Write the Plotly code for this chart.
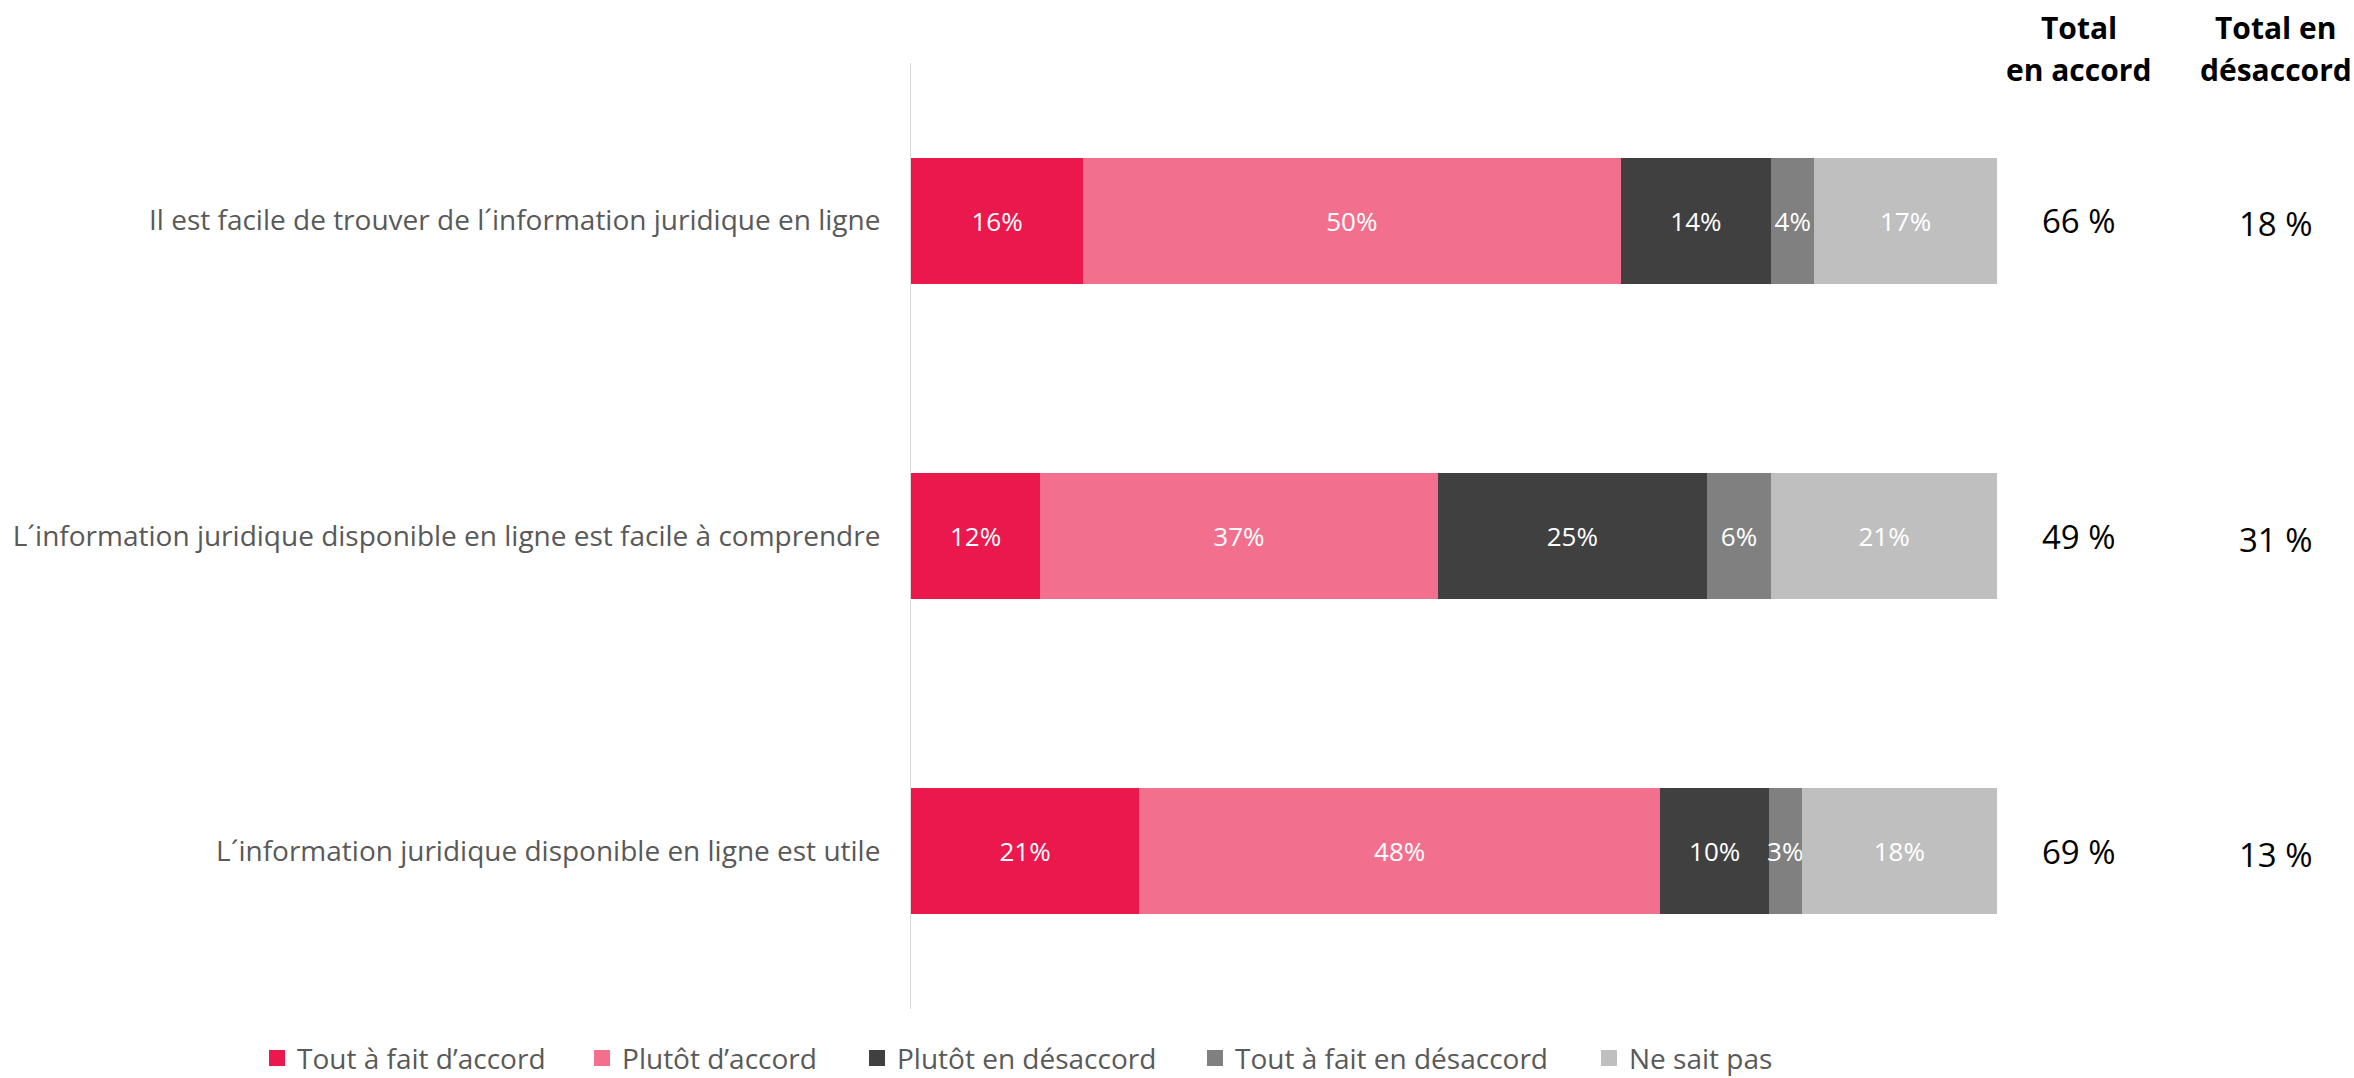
import plotly.graph_objects as go

# Survey statements (top to bottom)
statements = [
    "Il est facile de trouver de l´information juridique en ligne",
    "L´information juridique disponible en ligne est facile à comprendre",
    "L´information juridique disponible en ligne est utile",
]

# Response categories and their colours
responses = [
    "Tout à fait d’accord",
    "Plutôt d’accord",
    "Plutôt en désaccord",
    "Tout à fait en désaccord",
    "Ne sait pas",
]
colors = ["#EB184E", "#F2708D", "#404040", "#808080", "#BFBFBF"]

# Share of respondents (%) per response, one value per statement
tout_a_fait_accord = [16, 12, 21]
plutot_accord = [50, 37, 48]
plutot_desaccord = [14, 25, 10]
tout_a_fait_desaccord = [4, 6, 3]
ne_sait_pas = [17, 21, 18]
series = [tout_a_fait_accord, plutot_accord, plutot_desaccord,
          tout_a_fait_desaccord, ne_sait_pas]

# Summary columns
total_accord = [66, 49, 69]
total_desaccord = [18, 31, 13]
header_accord = ["Total", "en accord"]
header_desaccord = ["Total en", "désaccord"]

FONT = "Open Sans"

fig = go.Figure()
for name, color, vals in zip(responses, colors, series):
    fig.add_trace(go.Bar(
        y=statements,
        x=vals,
        name=name,
        orientation="h",
        width=0.4,
        marker=dict(color=color, line=dict(width=0)),
        text=[f"{v}%" for v in vals],
        textposition="inside",
        insidetextanchor="middle",
        textangle=0,
        textfont=dict(color="white", size=26, family=FONT),
        hoverinfo="skip",
        showlegend=False,
    ))

# One small legend per response so each key sits at its own spot in the row
legend_x = [-0.6022, -0.3029, -0.0497, 0.2615, 0.6243]
legend_ids = ["legend"] + [f"legend{k}" for k in range(2, len(responses) + 1)]
for name, color, lid in zip(responses, colors, legend_ids):
    fig.add_trace(go.Scatter(
        x=[None], y=[None], mode="markers", name=name, legend=lid,
        marker=dict(symbol="square", size=16, color=color),
        hoverinfo="skip",
    ))

annotations = []
col_accord_x = 1.0755
col_desaccord_x = 1.2569
for i, (a, d) in enumerate(zip(total_accord, total_desaccord)):
    annotations.append(dict(x=col_accord_x, y=i, xref="paper", yref="y",
                            text=f"{a} %", showarrow=False,
                            xanchor="center", yanchor="middle",
                            font=dict(size=33, color="#000000", family=FONT)))
    annotations.append(dict(x=col_desaccord_x, y=i, xref="paper", yref="y",
                            text=f"{d} %", showarrow=False, yshift=-3,
                            xanchor="center", yanchor="middle",
                            font=dict(size=33, color="#000000", family=FONT)))
for x, lines in [(col_accord_x, header_accord), (col_desaccord_x, header_desaccord)]:
    for yy, line in zip([1.038, 0.993], lines):
        annotations.append(dict(x=x, y=yy, xref="paper", yref="paper",
                                text=f"<b>{line}</b>", showarrow=False,
                                xanchor="center", yanchor="middle",
                                font=dict(size=30, color="#000000", family=FONT)))

legend_style = dict(
    orientation="h",
    xanchor="left",
    y=-0.052, yanchor="middle",
    font=dict(size=28, color="#595959", family=FONT),
    itemwidth=30,
    bgcolor="rgba(0,0,0,0)",
)
layout_legends = {lid: dict(legend_style, x=lx) for lid, lx in zip(legend_ids, legend_x)}

fig.update_layout(
    width=2354,
    height=1078,
    barmode="stack",
    barnorm="percent",
    plot_bgcolor="white",
    paper_bgcolor="white",
    margin=dict(l=911, r=357, t=63, b=69, autoexpand=False),
    font=dict(family=FONT, color="#595959"),
    showlegend=True,
    uniformtext=dict(minsize=26, mode="show"),
    annotations=annotations,
    **layout_legends,
)
fig.update_xaxes(range=[0, 100], visible=False, showgrid=False, zeroline=False)
fig.update_yaxes(
    autorange="reversed",
    showline=True, linecolor="#D9D9D9", linewidth=1,
    showgrid=False, zeroline=False,
    ticks="outside", ticklen=24, tickcolor="rgba(0,0,0,0)",
    tickfont=dict(size=28, color="#595959", family=FONT),
)

fig.write_html("out.html")
